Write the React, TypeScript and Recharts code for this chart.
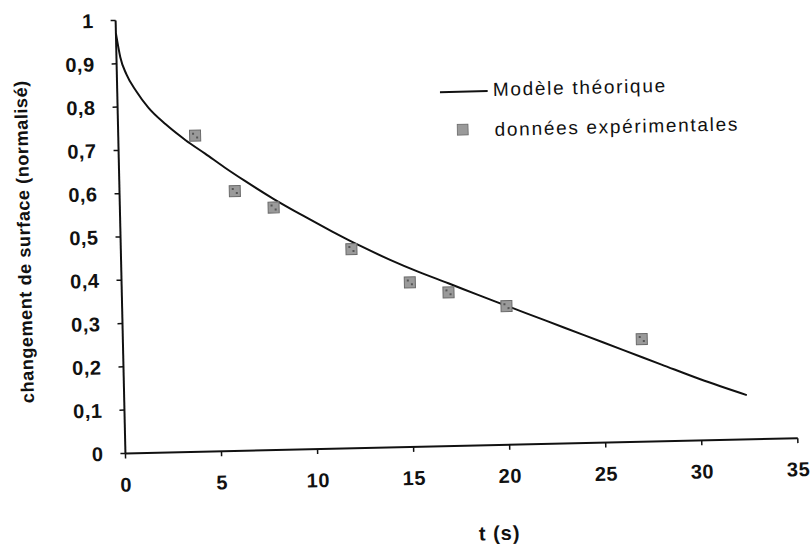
import React from 'react';
import { ComposedChart, Line, Scatter, XAxis, YAxis, Legend, Label } from 'recharts';

// Theoretical model curve (t in s, normalised surface change)
const modelT = [0, 0.2, 0.5, 1, 1.6, 2.5, 3.5, 4.5, 5.5, 6.5, 8, 9.5, 11, 12.5, 14, 15.5, 17, 18.5, 20, 22, 24, 26, 28, 30, 32.4];
const modelV = [0.97, 0.915, 0.875, 0.835, 0.797, 0.757, 0.72, 0.688, 0.655, 0.624, 0.58, 0.54, 0.502, 0.466, 0.433, 0.403, 0.376, 0.348, 0.321, 0.285, 0.249, 0.213, 0.177, 0.141, 0.102];

// Experimental data
const expT = [4, 6, 8, 12, 15, 17, 20, 27];
const expV = [0.73, 0.6, 0.56, 0.46, 0.38, 0.355, 0.32, 0.237];

const xTicks = [0, 5, 10, 15, 20, 25, 30, 35];
const yTicks = [0, 0.1, 0.2, 0.3, 0.4, 0.5, 0.6, 0.7, 0.8, 0.9, 1];

const modelData = modelT.map((t, i) => ({ t, v: modelV[i] }));
const expData = expT.map((t, i) => ({ t, v: expV[i] }));

const FONT = '"Liberation Sans", Arial, sans-serif';

const Marker = (props: any) => {
  const { cx, cy } = props;
  if (cx == null || cy == null) return null;
  return (
    <g>
      <rect x={cx - 5.5} y={cy - 5.5} width={11} height={11} fill="#9a9a9a" stroke="#6a6a6a" strokeWidth={1} />
      <rect x={cx - 3} y={cy - 3} width={2} height={2} fill="#555" />
      <rect x={cx + 1} y={cy + 1} width={2} height={2} fill="#555" />
    </g>
  );
};

const LegendContent = () => (
  <div style={{ position: 'relative', width: 340, height: 80, fontFamily: FONT, color: '#111' }}>
    <svg style={{ position: 'absolute', left: 4, top: 21 }} width={48} height={4}>
      <line x1={0} y1={2} x2={48} y2={2} stroke="#111" strokeWidth={2} />
    </svg>
    <div style={{ position: 'absolute', left: 57, top: 11, fontSize: 19, lineHeight: '22px', letterSpacing: 1.7, whiteSpace: 'nowrap' }}>
      Modèle théorique
    </div>
    <svg style={{ position: 'absolute', left: 20, top: 55 }} width={12} height={12}>
      <rect x={0.5} y={0.5} width={11} height={11} fill="#9a9a9a" stroke="#6a6a6a" strokeWidth={1} />
    </svg>
    <div style={{ position: 'absolute', left: 58, top: 51, fontSize: 19, lineHeight: '22px', letterSpacing: 1.7, whiteSpace: 'nowrap' }}>
      données expérimentales
    </div>
  </div>
);

const fmt = (v: number) => String(Math.round(v * 10) / 10).replace('.', ',');

export default function App() {
  return (
    <div
      style={{
        position: 'absolute',
        left: 0,
        top: 0,
        width: 811,
        height: 553,
        background: '#fff',
        transform: 'rotate(-1.3deg)',
        transformOrigin: '405.5px 276.5px',
      }}
    >
      <ComposedChart width={811} height={553} margin={{ top: 14, right: 17, bottom: 0, left: 0 }}>
        <XAxis
          type="number"
          dataKey="t"
          domain={[0, 35]}
          ticks={xTicks}
          height={106}
          axisLine={{ stroke: '#111', strokeWidth: 2 }}
          tickLine={{ stroke: '#111', strokeWidth: 1.5 }}
          tickSize={5}
          tickMargin={19}
          tick={{ fill: '#111', fontSize: 20, fontWeight: 'bold', fontFamily: FONT, letterSpacing: 0.5 }}
          allowDataOverflow
        >
          <Label value="t (s)" position="insideBottom" offset={11} dx={36} fill="#111" fontSize={20} fontWeight="bold" fontFamily={FONT} letterSpacing={1} />
        </XAxis>
        <YAxis
          type="number"
          dataKey="v"
          domain={[0, 1]}
          ticks={yTicks}
          width={121.5}
          tickFormatter={fmt}
          axisLine={{ stroke: '#111', strokeWidth: 2 }}
          tickLine={{ stroke: '#111', strokeWidth: 1.5 }}
          tickSize={5}
          tickMargin={17}
          tick={{ fill: '#111', fontSize: 20, fontWeight: 'bold', fontFamily: FONT, letterSpacing: 0.5 }}
          allowDataOverflow
        >
          <Label
            value="changement de surface (normalisé)"
            position="center"
            angle={-90}
            dx={-36}
            dy={2.5}
            fill="#111"
            fontSize={18}
            fontWeight="bold"
            fontFamily={FONT}
            letterSpacing={0.6}
          />
        </YAxis>
        <Legend
          layout="horizontal"
          verticalAlign="middle"
          align="center"
          wrapperStyle={{ left: 440, top: 70, width: 340, height: 80 }}
          content={() => <LegendContent />}
        />
        <Line
          data={modelData}
          dataKey="v"
          type="monotone"
          stroke="#111"
          strokeWidth={2}
          dot={false}
          activeDot={false}
          isAnimationActive={false}
          legendType="line"
          name="Modèle théorique"
        />
        <Scatter
          data={expData}
          dataKey="v"
          shape={<Marker />}
          isAnimationActive={false}
          name="données expérimentales"
        />
      </ComposedChart>
    </div>
  );
}
